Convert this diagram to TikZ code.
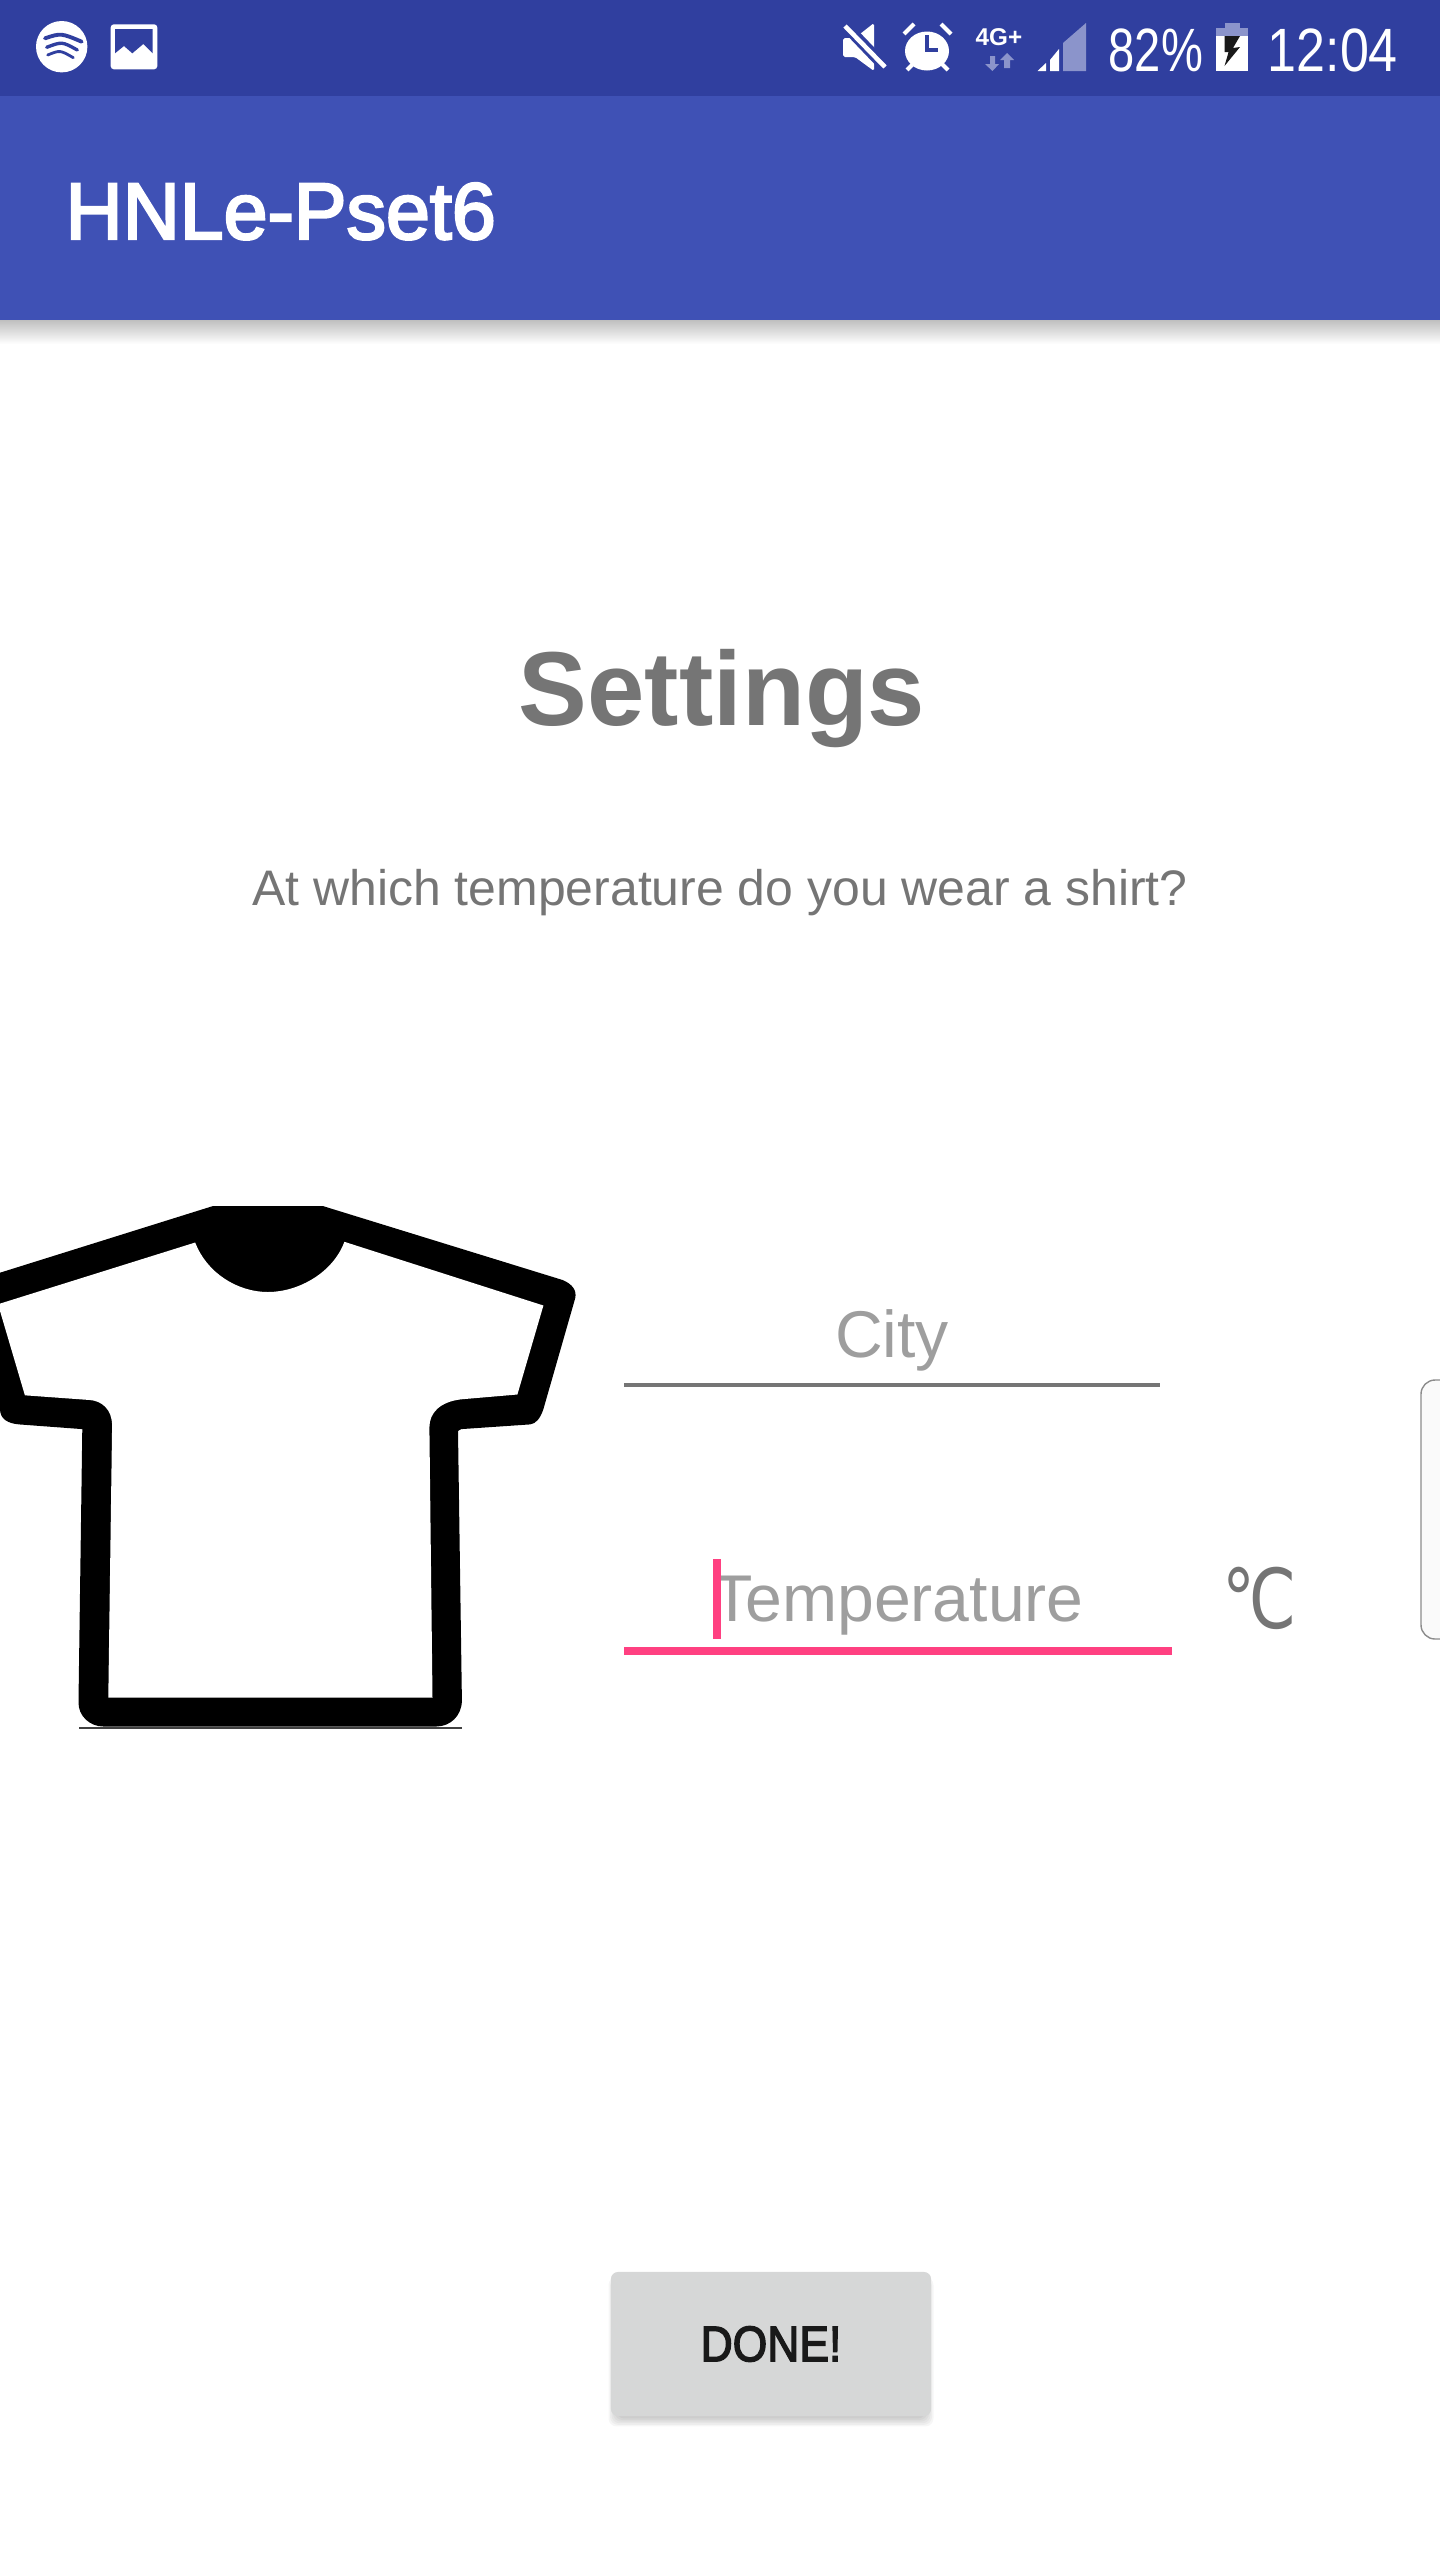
\documentclass[tikz,border=0pt]{standalone}
\usepackage{fontspec}
\setmainfont{Liberation Sans}
\newfontfamily\symfont{DejaVu Sans}
\newfontfamily\mediumfont[FakeBold=3]{Liberation Sans}
\definecolor{statusblue}{HTML}{303F9F}
\definecolor{barblue}{HTML}{3F51B5}
\definecolor{paleblue}{HTML}{8B94CB}
\definecolor{textgray}{HTML}{757575}
\definecolor{hintgray}{HTML}{9E9E9E}
\definecolor{accentpink}{HTML}{FF4081}
\definecolor{buttongray}{HTML}{D6D7D7}
\tikzset{
  label west/.style={anchor=base west,inner sep=0pt},
  label mid/.style={anchor=base,inner sep=0pt},
  bar text/.style={label west,text=white,font=\fontsize{22.8}{26}\mediumfont},
  status text/.style={label west,text=white,font=\fontsize{17.4}{20}\selectfont},
  hint text/.style={label mid,text=hintgray,font=\fontsize{18.8}{22}\selectfont},
}
\begin{document}
\begin{tikzpicture}[x=0.01cm,y=-0.01cm]
    \useasboundingbox (0,0) rectangle (1440,2560);
    % bars
    \shade[top color=black!25,bottom color=white] (0,320) rectangle (1440,344);
    \fill[barblue] (0,96) rectangle (1440,320);
    \fill[statusblue] (0,0) rectangle (1440,96);
    \node[bar text] (apptitle) at (65,239) {\scalebox{0.985}[1]{HNLe-Pset6}};

    % status icons left
    \fill[white] (61.7,46.7) circle (25.7);
    \draw[statusblue,line width=1.1pt,line cap=round] (45,38.3) .. controls (61,33) .. (81.7,41.7);
    \draw[statusblue,line width=0.95pt,line cap=round] (46.7,47.3) .. controls (62,41.5) .. (77.3,50);
    \draw[statusblue,line width=0.8pt,line cap=round] (47.7,55) .. controls (60,50) .. (73.3,57.7);
    \fill[white,rounded corners=0.9pt] (110.7,24.3) rectangle (157.3,69.3);
    \fill[statusblue] (115,29) -- (152.7,29) -- (152.7,53.3) -- (143.3,44) -- (132.3,53.3) -- (124,46) -- (115,53.3) -- cycle;

    % status icons right
    \fill[white,rounded corners=0.5pt] (843,38) -- (855,38) -- (874,23) -- (874,71) -- (855,57) -- (843,57) -- cycle;
    \draw[statusblue,line width=3.2pt] (843,23) -- (888,70);
    \draw[white,line width=1.3pt] (845,26) -- (885,67);
    \fill[white] (927,51) ellipse (22 and 19.5);
    \foreach \a/\b/\c/\d in {904/34/914/24,941/24/951/34,907/70/914/63,941/63/948/70}
      \draw[white,line width=1.2pt] (\a,\b) -- (\c,\d);
    \draw[statusblue,line width=1.2pt] (927,35) -- (927,50) -- (938,50);
    \node[label west,text=white,font=\bfseries\fontsize{6.9}{8}\selectfont] (net) at (975,45) {4G+};
    \fill[paleblue] (990,56) -- (995,56) -- (995,64) -- (999,64) -- (992.5,71) -- (985,64) -- (990,64) -- cycle;
    \fill[paleblue] (1004,68) -- (1010,68) -- (1010,60) -- (1014,60) -- (1007,53) -- (1000,60) -- (1004,60) -- cycle;
    \fill[white] (1037.5,71) -- (1046,63) -- (1046,71) -- cycle;
    \fill[white] (1050,71) -- (1050,60) -- (1059,49) -- (1059,71) -- cycle;
    \fill[paleblue] (1063,71) -- (1063,43) -- (1086,23) -- (1086,71) -- cycle;
    \node[status text] (battery) at (1108,71) {\scalebox{0.77}[1]{82\%}};
    \fill[paleblue] (1224.5,23) rectangle (1239.5,28);
    \fill[paleblue] (1216,28) rectangle (1248,36);
    \fill[white] (1216,36) rectangle (1248,71);
    \fill[black!90] (1224.5,36) -- (1240,36) -- (1233,48) -- (1240,47) -- (1224.5,66) -- (1228.6,52) -- (1224.5,52) -- cycle;
    \node[status text] (clock) at (1267,71) {\scalebox{0.85}[1]{12:04}};

    % heading
    \node[label mid,text=textgray,font=\bfseries\fontsize{29.9}{34}\selectfont] (heading) at (722,725) {\scalebox{0.98}[1]{Settings}};
    \node[label mid,text=textgray,font=\fontsize{14.2}{17}\selectfont] (question) at (720,905) {At which temperature do you wear a shirt?};

    % shirt
    \fill[black] (0,1272.7) -- (212.4,1206.2) -- (323.4,1206.2) -- (562.6,1280)
      .. controls (572,1284) and (577,1290) .. (575.2,1298.2) -- (543.4,1409.1)
      .. controls (540,1419) and (536,1423.5) .. (530,1424.4) -- (461.2,1429.1) -- (458,1430.9)
      -- (461.9,1700) .. controls (462,1716) and (450,1726.5) .. (436.3,1726.5)
      -- (103.3,1726.5) .. controls (90,1726.5) and (78,1716) .. (78.5,1701.8)
      -- (82.3,1429.1) -- (19.1,1424.4) .. controls (8,1423.5) and (0,1419) .. (0,1409.1) -- cycle;
    \fill[white] (0,1303.6) -- (195.2,1242.5) .. controls (206.7,1272.7) and (237.3,1292) .. (267.9,1292)
      .. controls (298.5,1292) and (333,1272.7) .. (344.4,1241.8) -- (543.4,1305.5) -- (517.4,1394.5)
      -- (461.2,1399.3) .. controls (440,1401.8) and (429.4,1412.7) .. (429.4,1427.3)
      -- (432.5,1697.5) -- (108.3,1697.5) -- (112.1,1425.5)
      .. controls (112.1,1409.1) and (101.4,1400.7) .. (89.9,1400)
      -- (24.9,1395.3) -- (0,1310.9) -- cycle;
    \draw[black!75,line width=0.4pt] (79,1728) -- (462,1728);

    % fields
    \node[hint text] (city) at (892,1357) {City};
    \draw[textgray,line width=1.1pt] (624,1385) -- (1160,1385);
    \node[hint text] (temperature) at (898,1621) {Temperature};
    \fill[accentpink] (713,1559) rectangle (721,1639);
    \fill[accentpink] (624,1647) rectangle (1172,1655);
    \node[label west,text=textgray,font=\symfont\fontsize{23.5}{26}\selectfont] (unit) at (1222,1628) {\scalebox{0.8}[1]{℃}};
    \draw[black!45,fill=black!2,line width=0.4pt,rounded corners=4pt] (1421,1380) rectangle (1460,1639);

    % button
    \foreach \i in {1,...,6}
      \fill[black,opacity=0.035,rounded corners=2.3pt] (611+\i*1.5-4,2276+\i) rectangle (931-\i*1.5+4,2428-\i*1.6);
    \node[fill=buttongray,rounded corners=2pt,minimum width=3.2cm,minimum height=1.44cm,inner sep=0pt,text=black!90,font=\fontsize{14.2}{17}\mediumfont] (done) at (771,2344) {\scalebox{0.89}[1]{DONE!}};
\end{tikzpicture}
\end{document}
